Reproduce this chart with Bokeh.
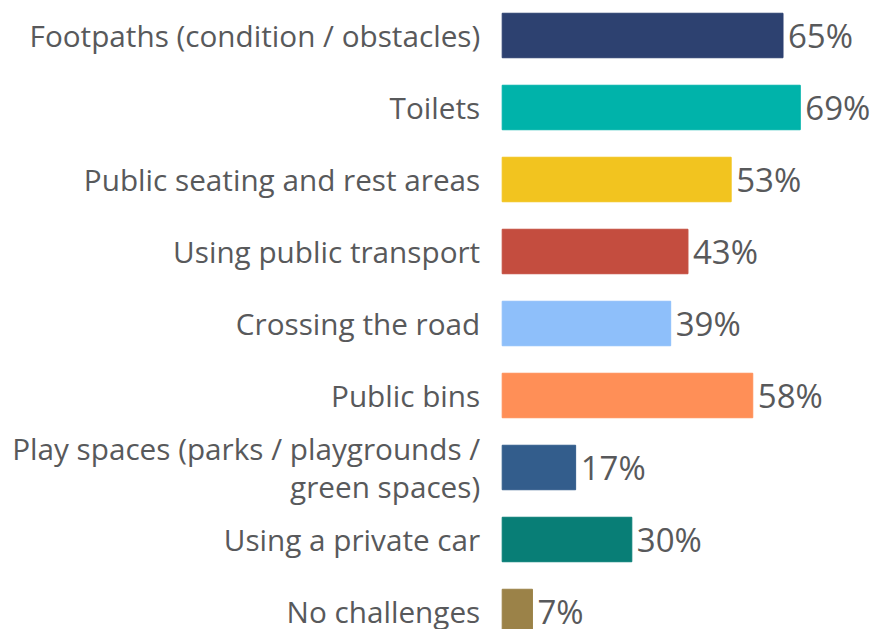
from bokeh.plotting import figure
from bokeh.models import ColumnDataSource, Range1d
from bokeh.core.properties import value
from bokeh.embed import file_html
from bokeh.resources import INLINE

categories = [
    "Footpaths (condition / obstacles)",
    "Toilets",
    "Public seating and rest areas",
    "Using public transport",
    "Crossing the road",
    "Public bins",
    "Play spaces (parks / playgrounds /\ngreen spaces)",
    "Using a private car",
    "No challenges",
]
values = [65, 69, 53, 43, 39, 58, 17, 30, 7]
colors = ["#2d4170", "#00b3aa", "#f2c41f", "#c44d3f", "#8ebffa",
          "#ff8f57", "#335d8c", "#087e76", "#9b8248"]

idx = list(range(len(categories)))
src = ColumnDataSource(dict(
    y=idx, v=values, c=colors, cat=categories,
    lab=[f"{v}%" for v in values], zero=[0] * len(values),
))

W, H = 872, 629
px_per_unit = 4.32
x0_px = 501.7
y0_px = 35.0
step_px = 72.0
p = figure(width=W, height=H, output_backend="svg", toolbar_location=None,
           x_range=Range1d(-x0_px / px_per_unit, (W - x0_px) / px_per_unit),
           y_range=Range1d((H - y0_px) / step_px, -y0_px / step_px),
           min_border=0, outline_line_color=None)
p.axis.visible = False
p.grid.visible = False
p.background_fill_color = "white"

p.hbar(y="y", left=0, right="v", height=0.618, color="c", source=src)

p.text(x="zero", y="y", text="cat", source=src, x_offset=-22,
       text_align="right", text_baseline="middle",
       text_font=value("Open Sans"), text_font_size="29.7px",
       text_color="#58595b", text_line_height=0.95)
p.text(x="v", y="y", text="lab", source=src, x_offset=5,
       text_align="left", text_baseline="middle",
       text_font=value("Open Sans"), text_font_size="33px",
       text_color="#58595b")

open("out.html", "w").write(file_html(p, INLINE))
